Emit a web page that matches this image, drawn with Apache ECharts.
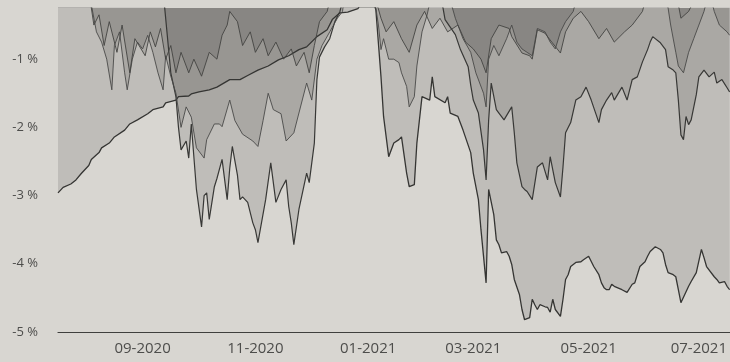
<!DOCTYPE html>
<html>
<head>
<meta charset="utf-8">
<script src="https://cdn.jsdelivr.net/npm/echarts@6/dist/echarts.min.js"></script>
<style>
  html, body { margin: 0; padding: 0; background: #d8d6d1; }
  #chart { width: 730px; height: 362px; }
</style>
</head>
<body>
<div id="chart"></div>
<script>
// Trading-day window of the drawdown chart
const START = '2020-07-16';
const END = '2021-07-19';
// Months that get an axis label (first trading day of the month)
const LABEL_MONTHS = [1, 3, 5, 7, 9, 11];

// Drawdown from running peak, in percent
const fundA = [
  ['2020-07-16', -2.96], ['2020-07-20', -2.88], ['2020-07-23', -2.83], ['2020-07-27', -2.77],
  ['2020-07-29', -2.68], ['2020-08-03', -2.56], ['2020-08-04', -2.47], ['2020-08-07', -2.37],
  ['2020-08-10', -2.30], ['2020-08-13', -2.23], ['2020-08-17', -2.14], ['2020-08-21', -2.04],
  ['2020-08-25', -1.95], ['2020-08-28', -1.89], ['2020-09-03', -1.80], ['2020-09-07', -1.74],
  ['2020-09-11', -1.70], ['2020-09-14', -1.64], ['2020-09-18', -1.60], ['2020-09-21', -1.55],
  ['2020-09-25', -1.54], ['2020-09-28', -1.51], ['2020-10-01', -1.48], ['2020-10-07', -1.45],
  ['2020-10-12', -1.41], ['2020-10-19', -1.30], ['2020-10-23', -1.30], ['2020-10-28', -1.24],
  ['2020-11-03', -1.16], ['2020-11-09', -1.10], ['2020-11-13', -1.01], ['2020-11-19', -0.95],
  ['2020-11-25', -0.86], ['2020-11-30', -0.82], ['2020-12-04', -0.67], ['2020-12-10', -0.57],
  ['2020-12-14', -0.42], ['2020-12-17', -0.32], ['2020-12-22', -0.31], ['2020-12-28', -0.26],
  ['2021-01-01', 0], ['2021-01-04', 0], ['2021-01-06', -0.28], ['2021-01-08', -1.26],
  ['2021-01-11', -1.84], ['2021-01-13', -2.43], ['2021-01-15', -2.23], ['2021-01-19', -2.18],
  ['2021-01-20', -2.14], ['2021-01-22', -2.67], ['2021-01-25', -2.87], ['2021-01-27', -2.84],
  ['2021-01-28', -2.23], ['2021-02-01', -1.55], ['2021-02-04', -1.60], ['2021-02-05', -1.26],
  ['2021-02-08', -1.55], ['2021-02-12', -1.64], ['2021-02-15', -1.55], ['2021-02-16', -1.79],
  ['2021-02-19', -1.84], ['2021-02-23', -2.04], ['2021-02-26', -2.37], ['2021-03-01', -2.67],
  ['2021-03-03', -3.06], ['2021-03-04', -3.50], ['2021-03-08', -4.28], ['2021-03-09', -2.91],
  ['2021-03-11', -3.28], ['2021-03-12', -3.65], ['2021-03-15', -3.72], ['2021-03-16', -3.84],
  ['2021-03-18', -3.82], ['2021-03-19', -3.89], ['2021-03-22', -4.01], ['2021-03-23', -4.23],
  ['2021-03-25', -4.45], ['2021-03-26', -4.67], ['2021-03-29', -4.82], ['2021-03-31', -4.79],
  ['2021-04-01', -4.52], ['2021-04-02', -4.60], ['2021-04-05', -4.67], ['2021-04-06', -4.60],
  ['2021-04-08', -4.63], ['2021-04-09', -4.64], ['2021-04-12', -4.71], ['2021-04-13', -4.52],
  ['2021-04-14', -4.67], ['2021-04-16', -4.77], ['2021-04-19', -4.52], ['2021-04-20', -4.23],
  ['2021-04-21', -4.16], ['2021-04-22', -4.04], ['2021-04-23', -4.01], ['2021-04-26', -3.98],
  ['2021-04-28', -3.97], ['2021-04-29', -3.94], ['2021-05-03', -3.89], ['2021-05-05', -4.04],
  ['2021-05-07', -4.16], ['2021-05-10', -4.28], ['2021-05-11', -4.35], ['2021-05-12', -4.38],
  ['2021-05-13', -4.38], ['2021-05-14', -4.30], ['2021-05-17', -4.33], ['2021-05-20', -4.38],
  ['2021-05-24', -4.42], ['2021-05-26', -4.30], ['2021-05-27', -4.28], ['2021-05-31', -4.04],
  ['2021-06-02', -3.97], ['2021-06-03', -3.89], ['2021-06-04', -3.82], ['2021-06-08', -3.75],
  ['2021-06-10', -3.79], ['2021-06-11', -3.84], ['2021-06-14', -4.01], ['2021-06-15', -4.13],
  ['2021-06-17', -4.16], ['2021-06-18', -4.19], ['2021-06-21', -4.38], ['2021-06-22', -4.57],
  ['2021-06-25', -4.33], ['2021-06-28', -4.26], ['2021-06-30', -4.13], ['2021-07-02', -3.79],
  ['2021-07-05', -3.91], ['2021-07-06', -4.04], ['2021-07-09', -4.19], ['2021-07-12', -4.23],
  ['2021-07-13', -4.28], ['2021-07-15', -4.26], ['2021-07-16', -4.33], ['2021-07-19', -4.38]
];

const fundB = [
  ['2020-07-16', 0], ['2020-09-11', 0], ['2020-09-16', -1.20], ['2020-09-18', -1.55],
  ['2020-09-21', -2.00], ['2020-09-22', -2.33], ['2020-09-24', -2.20], ['2020-09-25', -2.45],
  ['2020-09-28', -1.95], ['2020-09-30', -2.91], ['2020-10-02', -3.46], ['2020-10-05', -3.00],
  ['2020-10-06', -2.96], ['2020-10-07', -3.35], ['2020-10-09', -2.87], ['2020-10-12', -2.75],
  ['2020-10-14', -2.47], ['2020-10-16', -3.06], ['2020-10-19', -2.60], ['2020-10-20', -2.28],
  ['2020-10-22', -2.70], ['2020-10-23', -3.06], ['2020-10-26', -3.02], ['2020-10-28', -3.10],
  ['2020-10-29', -3.25], ['2020-10-30', -3.40], ['2020-11-02', -3.50], ['2020-11-03', -3.69],
  ['2020-11-06', -3.06], ['2020-11-10', -2.52], ['2020-11-12', -3.10], ['2020-11-16', -2.91],
  ['2020-11-18', -2.77], ['2020-11-19', -3.16], ['2020-11-20', -3.40], ['2020-11-23', -3.72],
  ['2020-11-25', -3.20], ['2020-11-30', -2.67], ['2020-12-01', -2.81], ['2020-12-03', -2.23],
  ['2020-12-04', -1.30], ['2020-12-07', -0.97], ['2020-12-09', -0.82], ['2020-12-11', -0.70],
  ['2020-12-15', -0.45], ['2020-12-17', -0.30], ['2020-12-21', 0], ['2021-02-10', 0],
  ['2021-02-12', -0.42], ['2021-02-18', -0.64], ['2021-02-22', -0.86], ['2021-02-25', -1.11],
  ['2021-02-26', -1.38], ['2021-03-01', -1.60], ['2021-03-03', -1.79], ['2021-03-05', -2.33],
  ['2021-03-08', -2.77], ['2021-03-09', -1.89], ['2021-03-10', -1.35], ['2021-03-12', -1.74],
  ['2021-03-15', -1.79], ['2021-03-17', -1.89], ['2021-03-22', -1.70], ['2021-03-23', -2.08],
  ['2021-03-24', -2.52], ['2021-03-26', -2.87], ['2021-03-29', -2.91], ['2021-03-30', -2.94],
  ['2021-04-01', -3.06], ['2021-04-05', -2.58], ['2021-04-07', -2.52], ['2021-04-09', -2.77],
  ['2021-04-12', -2.43], ['2021-04-14', -2.81], ['2021-04-16', -3.02], ['2021-04-19', -2.58],
  ['2021-04-20', -2.08], ['2021-04-22', -1.93], ['2021-04-26', -1.60], ['2021-04-28', -1.55],
  ['2021-04-30', -1.41], ['2021-05-04', -1.60], ['2021-05-07', -1.93], ['2021-05-10', -1.74],
  ['2021-05-12', -1.60], ['2021-05-14', -1.49], ['2021-05-17', -1.60], ['2021-05-20', -1.41],
  ['2021-05-24', -1.60], ['2021-05-26', -1.30], ['2021-05-28', -1.26], ['2021-06-01', -1.04],
  ['2021-06-03', -0.86], ['2021-06-04', -0.75], ['2021-06-07', -0.67], ['2021-06-10', -0.76],
  ['2021-06-14', -0.86], ['2021-06-15', -1.11], ['2021-06-17', -1.16], ['2021-06-18', -1.20],
  ['2021-06-21', -1.60], ['2021-06-22', -2.11], ['2021-06-23', -2.18], ['2021-06-24', -1.84],
  ['2021-06-25', -1.96], ['2021-06-28', -1.89], ['2021-06-30', -1.52], ['2021-07-01', -1.26],
  ['2021-07-05', -1.16], ['2021-07-07', -1.26], ['2021-07-09', -1.19], ['2021-07-12', -1.35],
  ['2021-07-14', -1.30], ['2021-07-16', -1.42], ['2021-07-19', -1.48]
];

const fundC = [
  ['2020-07-16', 0], ['2020-08-03', 0], ['2020-08-06', -0.60], ['2020-08-10', -0.75],
  ['2020-08-12', -1.00], ['2020-08-14', -1.45], ['2020-08-17', -0.80], ['2020-08-19', -0.60],
  ['2020-08-21', -1.20], ['2020-08-24', -1.45], ['2020-08-26', -1.00], ['2020-08-28', -0.75],
  ['2020-09-01', -0.85], ['2020-09-03', -0.65], ['2020-09-07', -0.90], ['2020-09-09', -1.20],
  ['2020-09-11', -1.45], ['2020-09-14', -0.95], ['2020-09-16', -1.25], ['2020-09-18', -1.50],
  ['2020-09-22', -2.00], ['2020-09-24', -1.70], ['2020-09-28', -1.85], ['2020-09-30', -2.30],
  ['2020-10-05', -2.45], ['2020-10-06', -2.18], ['2020-10-09', -1.95], ['2020-10-13', -1.95],
  ['2020-10-14', -1.99], ['2020-10-19', -1.60], ['2020-10-21', -1.90], ['2020-10-26', -2.10],
  ['2020-10-30', -2.20], ['2020-11-03', -2.28], ['2020-11-05', -1.90], ['2020-11-09', -1.50],
  ['2020-11-11', -1.74], ['2020-11-16', -1.80], ['2020-11-18', -2.20], ['2020-11-23', -2.08],
  ['2020-11-30', -1.35], ['2020-12-02', -1.60], ['2020-12-04', -1.00], ['2020-12-08', -0.80],
  ['2020-12-11', -0.60], ['2020-12-16', -0.40], ['2020-12-18', -0.30], ['2020-12-21', 0],
  ['2021-01-05', 0], ['2021-01-07', -0.50], ['2021-01-08', -0.86], ['2021-01-11', -0.70],
  ['2021-01-13', -1.00], ['2021-01-15', -1.00], ['2021-01-19', -1.05], ['2021-01-20', -1.20],
  ['2021-01-22', -1.40], ['2021-01-25', -1.70], ['2021-01-27', -1.55], ['2021-01-28', -1.10],
  ['2021-02-01', -0.60], ['2021-02-03', -0.35], ['2021-02-05', 0], ['2021-02-15', 0],
  ['2021-02-18', -0.40], ['2021-02-23', -0.70], ['2021-02-26', -0.90], ['2021-03-02', -1.20],
  ['2021-03-05', -1.50], ['2021-03-08', -1.70], ['2021-03-09', -1.00], ['2021-03-11', -0.80],
  ['2021-03-15', -0.95], ['2021-03-18', -0.70], ['2021-03-22', -0.50], ['2021-03-24', -0.75],
  ['2021-03-26', -0.85], ['2021-03-30', -0.90], ['2021-04-01', -0.95], ['2021-04-05', -0.55],
  ['2021-04-08', -0.60], ['2021-04-12', -0.75], ['2021-04-14', -0.85], ['2021-04-16', -0.60],
  ['2021-04-20', -0.45], ['2021-04-23', -0.30], ['2021-04-27', 0], ['2021-06-14', 0],
  ['2021-06-16', -0.50], ['2021-06-18', -0.90], ['2021-06-21', -1.10], ['2021-06-23', -1.20],
  ['2021-06-25', -0.90], ['2021-06-29', -0.70], ['2021-07-01', -0.50], ['2021-07-05', -0.30],
  ['2021-07-07', 0], ['2021-07-09', -0.30], ['2021-07-13', -0.50], ['2021-07-16', -0.60],
  ['2021-07-19', -0.65]
];

const fundD = [
  ['2020-07-16', 0], ['2020-08-03', 0], ['2020-08-05', -0.50], ['2020-08-07', -0.35],
  ['2020-08-11', -0.80], ['2020-08-13', -0.45], ['2020-08-18', -0.90], ['2020-08-20', -0.50],
  ['2020-08-25', -1.20], ['2020-08-27', -0.70], ['2020-09-02', -0.95], ['2020-09-04', -0.60],
  ['2020-09-08', -0.82], ['2020-09-10', -0.55], ['2020-09-14', -1.00], ['2020-09-16', -0.80],
  ['2020-09-18', -1.20], ['2020-09-22', -0.90], ['2020-09-25', -1.20], ['2020-09-29', -1.00],
  ['2020-10-02', -1.25], ['2020-10-07', -0.90], ['2020-10-12', -1.00], ['2020-10-14', -0.65],
  ['2020-10-16', -0.50], ['2020-10-19', -0.30], ['2020-10-22', -0.45], ['2020-10-26', -0.80],
  ['2020-10-29', -0.60], ['2020-11-02', -0.90], ['2020-11-05', -0.70], ['2020-11-09', -0.95],
  ['2020-11-12', -0.75], ['2020-11-17', -1.00], ['2020-11-20', -0.85], ['2020-11-24', -1.10],
  ['2020-11-27', -0.90], ['2020-12-01', -1.20], ['2020-12-03', -0.80], ['2020-12-07', -0.45],
  ['2020-12-10', -0.30], ['2020-12-14', 0], ['2021-01-05', 0], ['2021-01-08', -0.40],
  ['2021-01-12', -0.60], ['2021-01-15', -0.45], ['2021-01-20', -0.70], ['2021-01-25', -0.90],
  ['2021-01-28', -0.50], ['2021-02-02', -0.30], ['2021-02-05', -0.55], ['2021-02-10', -0.40],
  ['2021-02-15', -0.60], ['2021-02-19', -0.50], ['2021-02-24', -0.75], ['2021-03-01', -0.85],
  ['2021-03-04', -1.00], ['2021-03-08', -1.20], ['2021-03-10', -0.70], ['2021-03-15', -0.50],
  ['2021-03-19', -0.55], ['2021-03-22', -0.67], ['2021-03-26', -0.91], ['2021-03-31', -0.95],
  ['2021-04-01', -1.00], ['2021-04-05', -0.57], ['2021-04-08', -0.62], ['2021-04-12', -0.72],
  ['2021-04-16', -0.91], ['2021-04-20', -0.60], ['2021-04-23', -0.40], ['2021-04-28', -0.30],
  ['2021-05-03', -0.45], ['2021-05-07', -0.70], ['2021-05-12', -0.55], ['2021-05-17', -0.75],
  ['2021-05-21', -0.60], ['2021-05-26', -0.50], ['2021-06-01', -0.30], ['2021-06-03', 0],
  ['2021-06-18', 0], ['2021-06-22', -0.40], ['2021-06-25', -0.30], ['2021-07-01', 0],
  ['2021-07-19', 0]
];

function iso(d) {
  return d.toISOString().slice(0, 10);
}

// Weekday calendar between START and END
function tradingDays(from, to) {
  const out = [];
  const d = new Date(from + 'T00:00:00Z');
  const end = new Date(to + 'T00:00:00Z');
  while (d <= end) {
    const wd = d.getUTCDay();
    if (wd !== 0 && wd !== 6) out.push(iso(d));
    d.setUTCDate(d.getUTCDate() + 1);
  }
  return out;
}

const days = tradingDays(START, END);
const dayIndex = new Map(days.map((d, i) => [d, i]));

// Map a date onto its trading day (weekend dates roll to Monday)
function toIndex(date) {
  const d = new Date(date + 'T00:00:00Z');
  while (!dayIndex.has(iso(d))) d.setUTCDate(d.getUTCDate() + 1);
  return dayIndex.get(iso(d));
}

function isLabelDay(i) {
  if (i === 0) return false;
  const m = +days[i].slice(5, 7);
  return LABEL_MONTHS.includes(m) && days[i - 1].slice(5, 7) !== days[i].slice(5, 7);
}

function makeSeries(name, rows, lineColor, lineWidth) {
  return {
    name: name,
    type: 'line',
    data: rows.map(r => [toIndex(r[0]), r[1]]),
    symbol: 'none',
    clip: true,
    lineStyle: { color: lineColor, width: lineWidth },
    areaStyle: { color: 'rgba(45,45,43,0.2)', origin: 'end' },
    emphasis: { disabled: true }
  };
}

const chart = echarts.init(document.getElementById('chart'), null, { renderer: 'canvas' });

chart.setOption({
  backgroundColor: '#d8d6d1',
  animation: false,
  grid: { left: 58, right: 0, top: 8, bottom: 30, containLabel: false },
  xAxis: {
    type: 'category',
    data: days,
    boundaryGap: false,
    axisTick: { show: false },
    splitLine: { show: false },
    axisLine: { lineStyle: { color: '#3f3f3d', width: 1.2 } },
    axisLabel: {
      interval: (i) => isLabelDay(i),
      formatter: (v) => v.slice(5, 7) + '-' + v.slice(0, 4),
      color: '#4d4d4b',
      fontFamily: 'Open Sans',
      fontSize: 15,
      margin: 9
    }
  },
  yAxis: {
    type: 'value',
    min: -5,
    max: -0.25,
    interval: 1,
    axisLine: { show: false },
    axisTick: { show: false },
    splitLine: { show: false },
    axisLabel: {
      formatter: (v) => (Number.isInteger(v) ? v + ' %' : ''),
      showMaxLabel: false,
      color: '#4d4d4b',
      fontFamily: 'Open Sans',
      fontSize: 13,
      margin: 20
    }
  },
  series: [
    makeSeries('Fonds A', fundA, '#353533', 1.3),
    makeSeries('Fonds B', fundB, '#383836', 1.2),
    makeSeries('Fonds C', fundC, '#4a4a48', 0.9),
    makeSeries('Fonds D', fundD, '#444442', 0.9)
  ]
});
</script>
</body>
</html>
